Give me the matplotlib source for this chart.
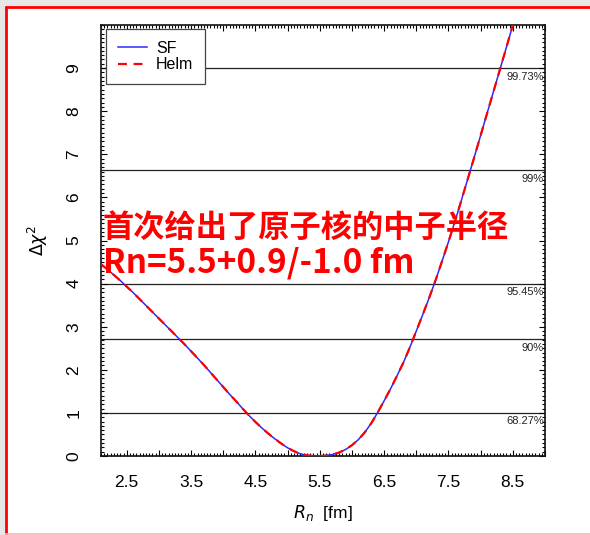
import matplotlib
matplotlib.use("Agg")
import matplotlib.pyplot as plt
from matplotlib.ticker import MultipleLocator, FixedLocator, FuncFormatter
from matplotlib.lines import Line2D
from matplotlib.patches import Rectangle

# ---- data ----
rn = [2.1, 2.2, 2.3, 2.4, 2.5, 2.6, 2.7, 2.8, 2.9, 3.0,
      3.1, 3.2, 3.3, 3.4, 3.5, 3.6, 3.7, 3.8, 3.9, 4.0,
      4.1, 4.2, 4.3, 4.4, 4.5, 4.6, 4.7, 4.8, 4.9, 5.0,
      5.1, 5.2, 5.3, 5.4, 5.5, 5.6, 5.7, 5.8, 5.9, 6.0,
      6.1, 6.2, 6.3, 6.4, 6.5, 6.6, 6.7, 6.8, 6.9, 7.0,
      7.1, 7.2, 7.3, 7.4, 7.5, 7.6, 7.7, 7.8, 7.9, 8.0,
      8.1, 8.2, 8.3, 8.4, 8.5]
chi2_sf = [4.45, 4.33, 4.20, 4.07, 3.93, 3.79, 3.64, 3.49, 3.34, 3.19,
           3.04, 2.89, 2.74, 2.59, 2.43, 2.27, 2.11, 1.94, 1.77, 1.60,
           1.43, 1.27, 1.10, 0.94, 0.79, 0.65, 0.52, 0.40, 0.29, 0.19,
           0.11, 0.05, 0.015, 0.0, 0.0, 0.01, 0.035, 0.08, 0.15, 0.25,
           0.38, 0.55, 0.76, 1.01, 1.28, 1.56, 1.86, 2.17, 2.52, 2.90,
           3.28, 3.67, 4.08, 4.52, 4.97, 5.44, 5.93, 6.43, 6.93, 7.44,
           7.95, 8.46, 8.97, 9.48, 10.0]
chi2_helm = list(chi2_sf)

cl_levels = [1.0, 2.71, 4.0, 6.63, 9.0]
cl_labels = ["68.27%", "90%", "95.45%", "99%", "99.73%"]

xtick_vals = [2.5, 3.5, 4.5, 5.5, 6.5, 7.5, 8.5]
ytick_vals = [0, 1, 2, 3, 4, 5, 6, 7, 8, 9]

W, H = 590, 535
fig = plt.figure(figsize=(W / 100, H / 100), dpi=100)
fig.patch.set_facecolor("#e6e6e6")

def fx(x):
    return x / W

def fy(y):
    return 1 - y / H

# white page with red frame
fig.patches.append(Rectangle((fx(5.5), fy(534)), 1, fy(6.5) - fy(534),
                             transform=fig.transFigure, facecolor="white",
                             edgecolor="none", zorder=-10))
fig.lines.append(Line2D([fx(5.5), fx(5.5)], [fy(6), fy(535)], color="#ff0000",
                        lw=2.0, transform=fig.transFigure, zorder=-5,
                        solid_capstyle="butt"))
fig.lines.append(Line2D([fx(5), 1.0], [fy(6.5), fy(6.5)], color="#ff0000",
                        lw=2.0, transform=fig.transFigure, zorder=-5,
                        solid_capstyle="butt"))
fig.lines.append(Line2D([fx(5), 1.0], [fy(533.5), fy(533.5)], color="#ffb4b4",
                        lw=1.2, transform=fig.transFigure, zorder=-5,
                        solid_capstyle="butt"))

ax = fig.add_axes([fx(101), fy(456), (545 - 101) / W, (456 - 25) / H])
ax.set_zorder(1)
ax.set_facecolor("white")
ax.set_xlim(2.1, 9.0)
ax.set_ylim(0, 10)

for lev in cl_levels:
    ax.axhline(lev, color="#222222", lw=0.9, zorder=1)
for lev, lab in zip(cl_levels, cl_labels):
    ax.text(0.997, lev - 0.08, lab, transform=ax.get_yaxis_transform(),
            ha="right", va="top", fontsize=8, color="#222222",
            family="Liberation Sans")

ax.plot(rn, chi2_sf, color="#2a2aff", lw=1.1, label="SF", zorder=3)
ax.plot(rn, chi2_helm, color="#ff0000", lw=1.6, ls=(0, (4, 3)), label="Helm", zorder=4)

# ticks
xmajor = [2.5 + 0.5 * i for i in range(14)]
ax.xaxis.set_major_locator(FixedLocator(xmajor))
ax.xaxis.set_major_formatter(FuncFormatter(
    lambda v, p: (f"{v:.1f}" if any(abs(v - t) < 1e-6 for t in xtick_vals) else "")))
ax.xaxis.set_minor_locator(MultipleLocator(0.05))
ax.yaxis.set_major_locator(FixedLocator(ytick_vals))
ax.yaxis.set_minor_locator(MultipleLocator(0.1))
ax.tick_params(which="both", direction="in", top=True, right=True, width=0.8)
ax.tick_params(which="major", length=4.5, labelsize=12.5, pad=14)
ax.tick_params(which="minor", length=2.0)
for lab in ax.get_yticklabels():
    lab.set_rotation(90)
    lab.set_va("center")
for lab in ax.get_xticklabels() + ax.get_yticklabels():
    lab.set_family("Liberation Sans")
for s in ax.spines.values():
    s.set_linewidth(1.2)
    s.set_color("#111111")

ax.set_xlabel(r"$R_n$  [fm]", fontsize=12.5, family="Liberation Sans", labelpad=9)
ax.set_ylabel(r"$\Delta\chi^2$", fontsize=12.5, family="Liberation Sans", labelpad=12)

leg = ax.legend(loc="upper left", bbox_to_anchor=(0.011, 0.991), borderaxespad=0,
                fancybox=False, edgecolor="#444444", framealpha=1,
                prop={"family": "Liberation Sans", "size": 11.5},
                handlelength=1.8, handletextpad=0.6, labelspacing=0.1,
                borderpad=0.75)
leg.get_frame().set_linewidth(0.9)

# red annotation text
fig.text(fx(103), fy(228), "首次给出了原子核的中子半径", color="#ff0000",
         fontsize=22.5, fontweight="heavy", va="center", ha="left", zorder=10,
         family=["Noto Sans CJK SC", "DejaVu Sans"])
fig.text(fx(103), fy(263), "Rn=5.5+0.9/-1.0 fm", color="#ff0000",
         fontsize=24, fontweight="heavy", va="center", ha="left", zorder=10,
         family=["Noto Sans CJK SC", "DejaVu Sans"])

fig.savefig("out.png", dpi=100, facecolor=fig.get_facecolor())
